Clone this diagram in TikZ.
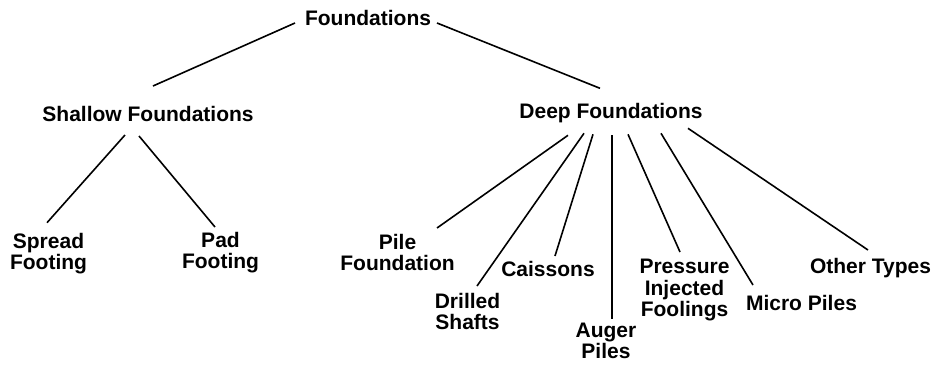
\documentclass[tikz,border=0pt]{standalone}
\usepackage{fontspec}
\setmainfont{Liberation Sans}
\usetikzlibrary{calc}
\tikzset{
  item/.style={anchor=north, inner sep=0pt, align=center,
    font=\fontsize{21}{21.5}\selectfont\bfseries},
  branch/.style={line width=1.6pt}
}

\begin{document}
\begin{tikzpicture}[x=1pt,y=-1pt]
\useasboundingbox (0,0) rectangle (937,365);
% % levels
 \node[item] (found) at (368,10) {Foundations};
 \node[item] (shallow) at (148,106) {Shallow Foundations};
 \node[item] (deep) at (611,103.3) {Deep Foundations};
% shallow types
 \node[item] (spread) at (48.5,232.7) {Spread\\Footing};
 \node[item] (pad) at (220.5,232) {Pad\\Footing};
% deep types
 \node[item] (pile) at (397.5,234) {Pile\\Foundation};
 \node[item] (drilled) at (467.5,293) {Drilled\\Shafts};
 \node[item] (caissons) at (548,261) {Caissons};
 \node[item] (auger) at (606,322.7) {Auger\\Piles};
 \node[item] (pressure) at (684.5,259) {Pressure\\Injected\\Foolings};
 \node[item] (micro) at (801.5,295) {Micro Piles};
 \node[item] (other) at (870.5,258) {Other Types};
% % branches
 \draw[branch] ($(found.north)+(-73,13)$) -- ($(shallow.north)+(5,-20)$);
 \draw[branch] ($(found.north)+(69,13)$) -- ($(deep.north)+(-11,-15)$);
 \draw[branch] ($(shallow.north)+(-23,29)$) -- ($(spread.north)+(-1.5,-10)$);
 \draw[branch] ($(shallow.north)+(-9,30)$) -- ($(pad.north)+(-5.5,-5)$);
 \draw[branch] ($(deep.north)+(-43,32)$) -- ($(pile.north)+(39.5,-6)$);
 \draw[branch] ($(deep.north)+(-27,30)$) -- ($(drilled.north)+(9.5,-7)$);
 \draw[branch] ($(deep.north)+(-18,31)$) -- ($(caissons.north)+(7,-5)$);
 \draw[branch] ($(deep.north)+(1,32)$) -- ($(auger.north)+(6,-4)$);
 \draw[branch] ($(deep.north)+(17,31)$) -- ($(pressure.north)+(-4.5,-7)$);
 \draw[branch] ($(deep.north)+(50,30)$) -- ($(micro.north)+(-48.5,-10)$);
 \draw[branch] ($(deep.north)+(77,25)$) -- ($(other.north)+(-2.5,-8)$);
\end{tikzpicture}
\end{document}
